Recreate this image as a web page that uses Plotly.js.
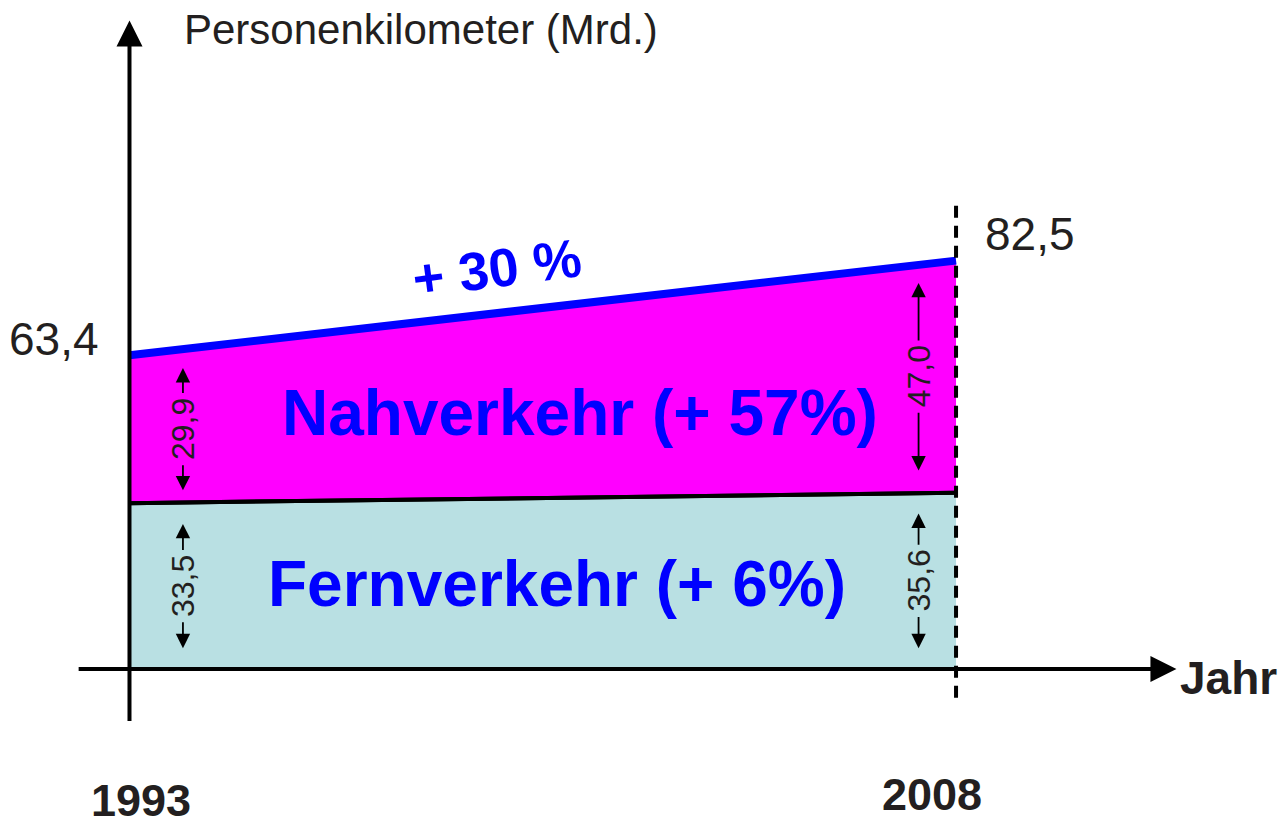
<!DOCTYPE html>
<html>
<head>
<meta charset="utf-8">
<script src="https://cdn.plot.ly/plotly-3.0.1.min.js"></script>
<style>html,body{margin:0;padding:0;background:#fff;}#chart{width:1285px;height:826px;}</style>
</head>
<body>
<div id="chart"></div>
<script>
// ---- data ----
const years = [1993, 2008];
const fernverkehr = [33.5, 35.6];
const nahverkehr = [29.9, 47.0];
const gesamt = [63.4, 82.5];
const gesamtLabels = ["63,4", "82,5"];
const fernLabels = ["33,5", "35,6"];
const nahLabels = ["29,9", "47,0"];
const yearLabels = ["1993", "2008"];
const growthTotal = "+ 30 %";
const nahName = "Nahverkehr (+ 57%)";
const fernName = "Fernverkehr (+ 6%)";
const yTitle = "Personenkilometer (Mrd.)";
const xTitle = "Jahr";

// ---- style ----
const FONT = "Liberation Sans, Arial, sans-serif";
const DARK = "#231f20";
const BLUE = "#0000ff";
const MAGENTA = "#ff00ff";
const TEAL = "#b9e0e3";

const traces = [
  {x: years, y: [0, 0], mode: "lines", line: {width: 0}, showlegend: false, hoverinfo: "skip"},
  {x: years, y: fernverkehr, mode: "lines", fill: "tonexty", fillcolor: TEAL,
   line: {color: "black", width: 4}, showlegend: false, hoverinfo: "skip"},
  {x: years, y: gesamt, mode: "lines", fill: "tonexty", fillcolor: MAGENTA,
   line: {color: BLUE, width: 8}, showlegend: false, hoverinfo: "skip"},
  {x: years, y: fernverkehr, mode: "lines", line: {color: "black", width: 4}, showlegend: false, hoverinfo: "skip"}
];

const x0 = years[0], x1 = years[1];
const annotations = [];
const shapes = [];

// axes (decoration)
annotations.push({x: x0, y: 131, ax: x0, ay: -10.8, xref: "x", yref: "y", axref: "x", ayref: "y",
  text: "", showarrow: true, arrowhead: 2, arrowsize: 1.3, arrowwidth: 4, arrowcolor: "black", standoff: 0});
annotations.push({x: 2012.0, y: 0, ax: 1992.05, ay: 0, xref: "x", yref: "y", axref: "x", ayref: "y",
  text: "", showarrow: true, arrowhead: 2, arrowsize: 1.3, arrowwidth: 4, arrowcolor: "black", standoff: 0});
// dashed line at last year
shapes.push({type: "line", xref: "x", yref: "y", x0: x1, x1: x1, y0: -5.8, y1: 94.5,
  line: {color: "black", width: 4, dash: "12px,8px"}});

// axis titles & year labels
annotations.push({xref: "x", yref: "paper", x: x0, y: 1, xanchor: "left", yanchor: "top", xshift: 53, yshift: -4,
  text: yTitle, showarrow: false, font: {family: FONT, size: 42, color: DARK}});
annotations.push({xref: "x", yref: "y", x: 2012.0, y: 0, xanchor: "left", yanchor: "middle", xshift: 2, yshift: -9,
  text: "<b>" + xTitle + "</b>", showarrow: false, font: {family: FONT, size: 46, color: DARK}});
yearLabels.forEach((t, i) => {
  annotations.push({xref: "x", yref: "paper", x: years[i], y: 0, xanchor: "center", yanchor: "bottom",
    xshift: i === 0 ? 12 : -24, yshift: i === 0 ? -2 : 4,
    text: "<b>" + t + "</b>", showarrow: false, font: {family: FONT, size: 45, color: DARK}});
});

// total labels
annotations.push({xref: "x", yref: "y", x: x0, y: gesamt[0], xanchor: "right", yanchor: "middle", xshift: -28, yshift: 16,
  text: gesamtLabels[0], showarrow: false, font: {family: FONT, size: 46, color: DARK}});
annotations.push({xref: "x", yref: "y", x: x1, y: gesamt[1], xanchor: "left", yanchor: "middle", xshift: 27, yshift: 27,
  text: gesamtLabels[1], showarrow: false, font: {family: FONT, size: 46, color: DARK}});

// growth label on top line
const gx = x0 + (x1 - x0) * 0.4445;
const gy = gesamt[0] + (gesamt[1] - gesamt[0]) * 0.4445;
annotations.push({xref: "x", yref: "y", x: gx, y: gy, xanchor: "center", yanchor: "middle", yshift: 45, textangle: -7.5,
  text: "<b>" + growthTotal + "</b>", showarrow: false, font: {family: FONT, size: 54, color: BLUE}});

// band names
annotations.push({xref: "x", yref: "y", x: x0 + (x1 - x0) * 0.545, y: (fernverkehr[0] + gesamt[0]) / 2, yshift: 16,
  text: "<b>" + nahName + "</b>", showarrow: false, font: {family: FONT, size: 64, color: BLUE}});
annotations.push({xref: "x", yref: "y", x: x0 + (x1 - x0) * 0.517, y: fernverkehr[0] / 2, yshift: 2,
  text: "<b>" + fernName + "</b>", showarrow: false, font: {family: FONT, size: 64, color: BLUE}});

// dimension arrows
function dim(xpos, bottom, top, label, inset) {
  const mid = (bottom + top) / 2;
  const half = 7.0;
  annotations.push({xref: "x", yref: "y", x: xpos, y: mid, text: label, textangle: -90, showarrow: false,
    font: {family: FONT, size: 32, color: DARK}});
  annotations.push({xref: "x", yref: "y", axref: "x", ayref: "y", x: xpos, y: top - inset, ax: xpos, ay: mid + half,
    text: "", showarrow: true, arrowhead: 2, arrowsize: 1.6, arrowwidth: 1.8, arrowcolor: "black", standoff: 0});
  annotations.push({xref: "x", yref: "y", axref: "x", ayref: "y", x: xpos, y: bottom + inset, ax: xpos, ay: mid - half,
    text: "", showarrow: true, arrowhead: 2, arrowsize: 1.6, arrowwidth: 1.8, arrowcolor: "black", standoff: 0});
}
const leftX = x0 + 0.97;
const rightX = x1 - 0.68;
dim(leftX, fernverkehr[0], gesamt[0], nahLabels[0], 2.6);
dim(leftX, 0, fernverkehr[0], fernLabels[0], 4.2);
dim(rightX, fernverkehr[1], gesamt[1], nahLabels[1], 4.5);
dim(rightX, 0, fernverkehr[1], fernLabels[1], 4.2);

const layout = {
  width: 1285, height: 826,
  margin: {l: 0, r: 0, t: 0, b: 0, pad: 0},
  paper_bgcolor: "white", plot_bgcolor: "white",
  showlegend: false,
  xaxis: {range: [1990.650, 2013.97], visible: false, fixedrange: true},
  yaxis: {range: [-31.72, 135.15], visible: false, fixedrange: true},
  annotations: annotations,
  shapes: shapes
};

Plotly.newPlot("chart", traces, layout, {staticPlot: true, displayModeBar: false});
</script>
</body>
</html>
